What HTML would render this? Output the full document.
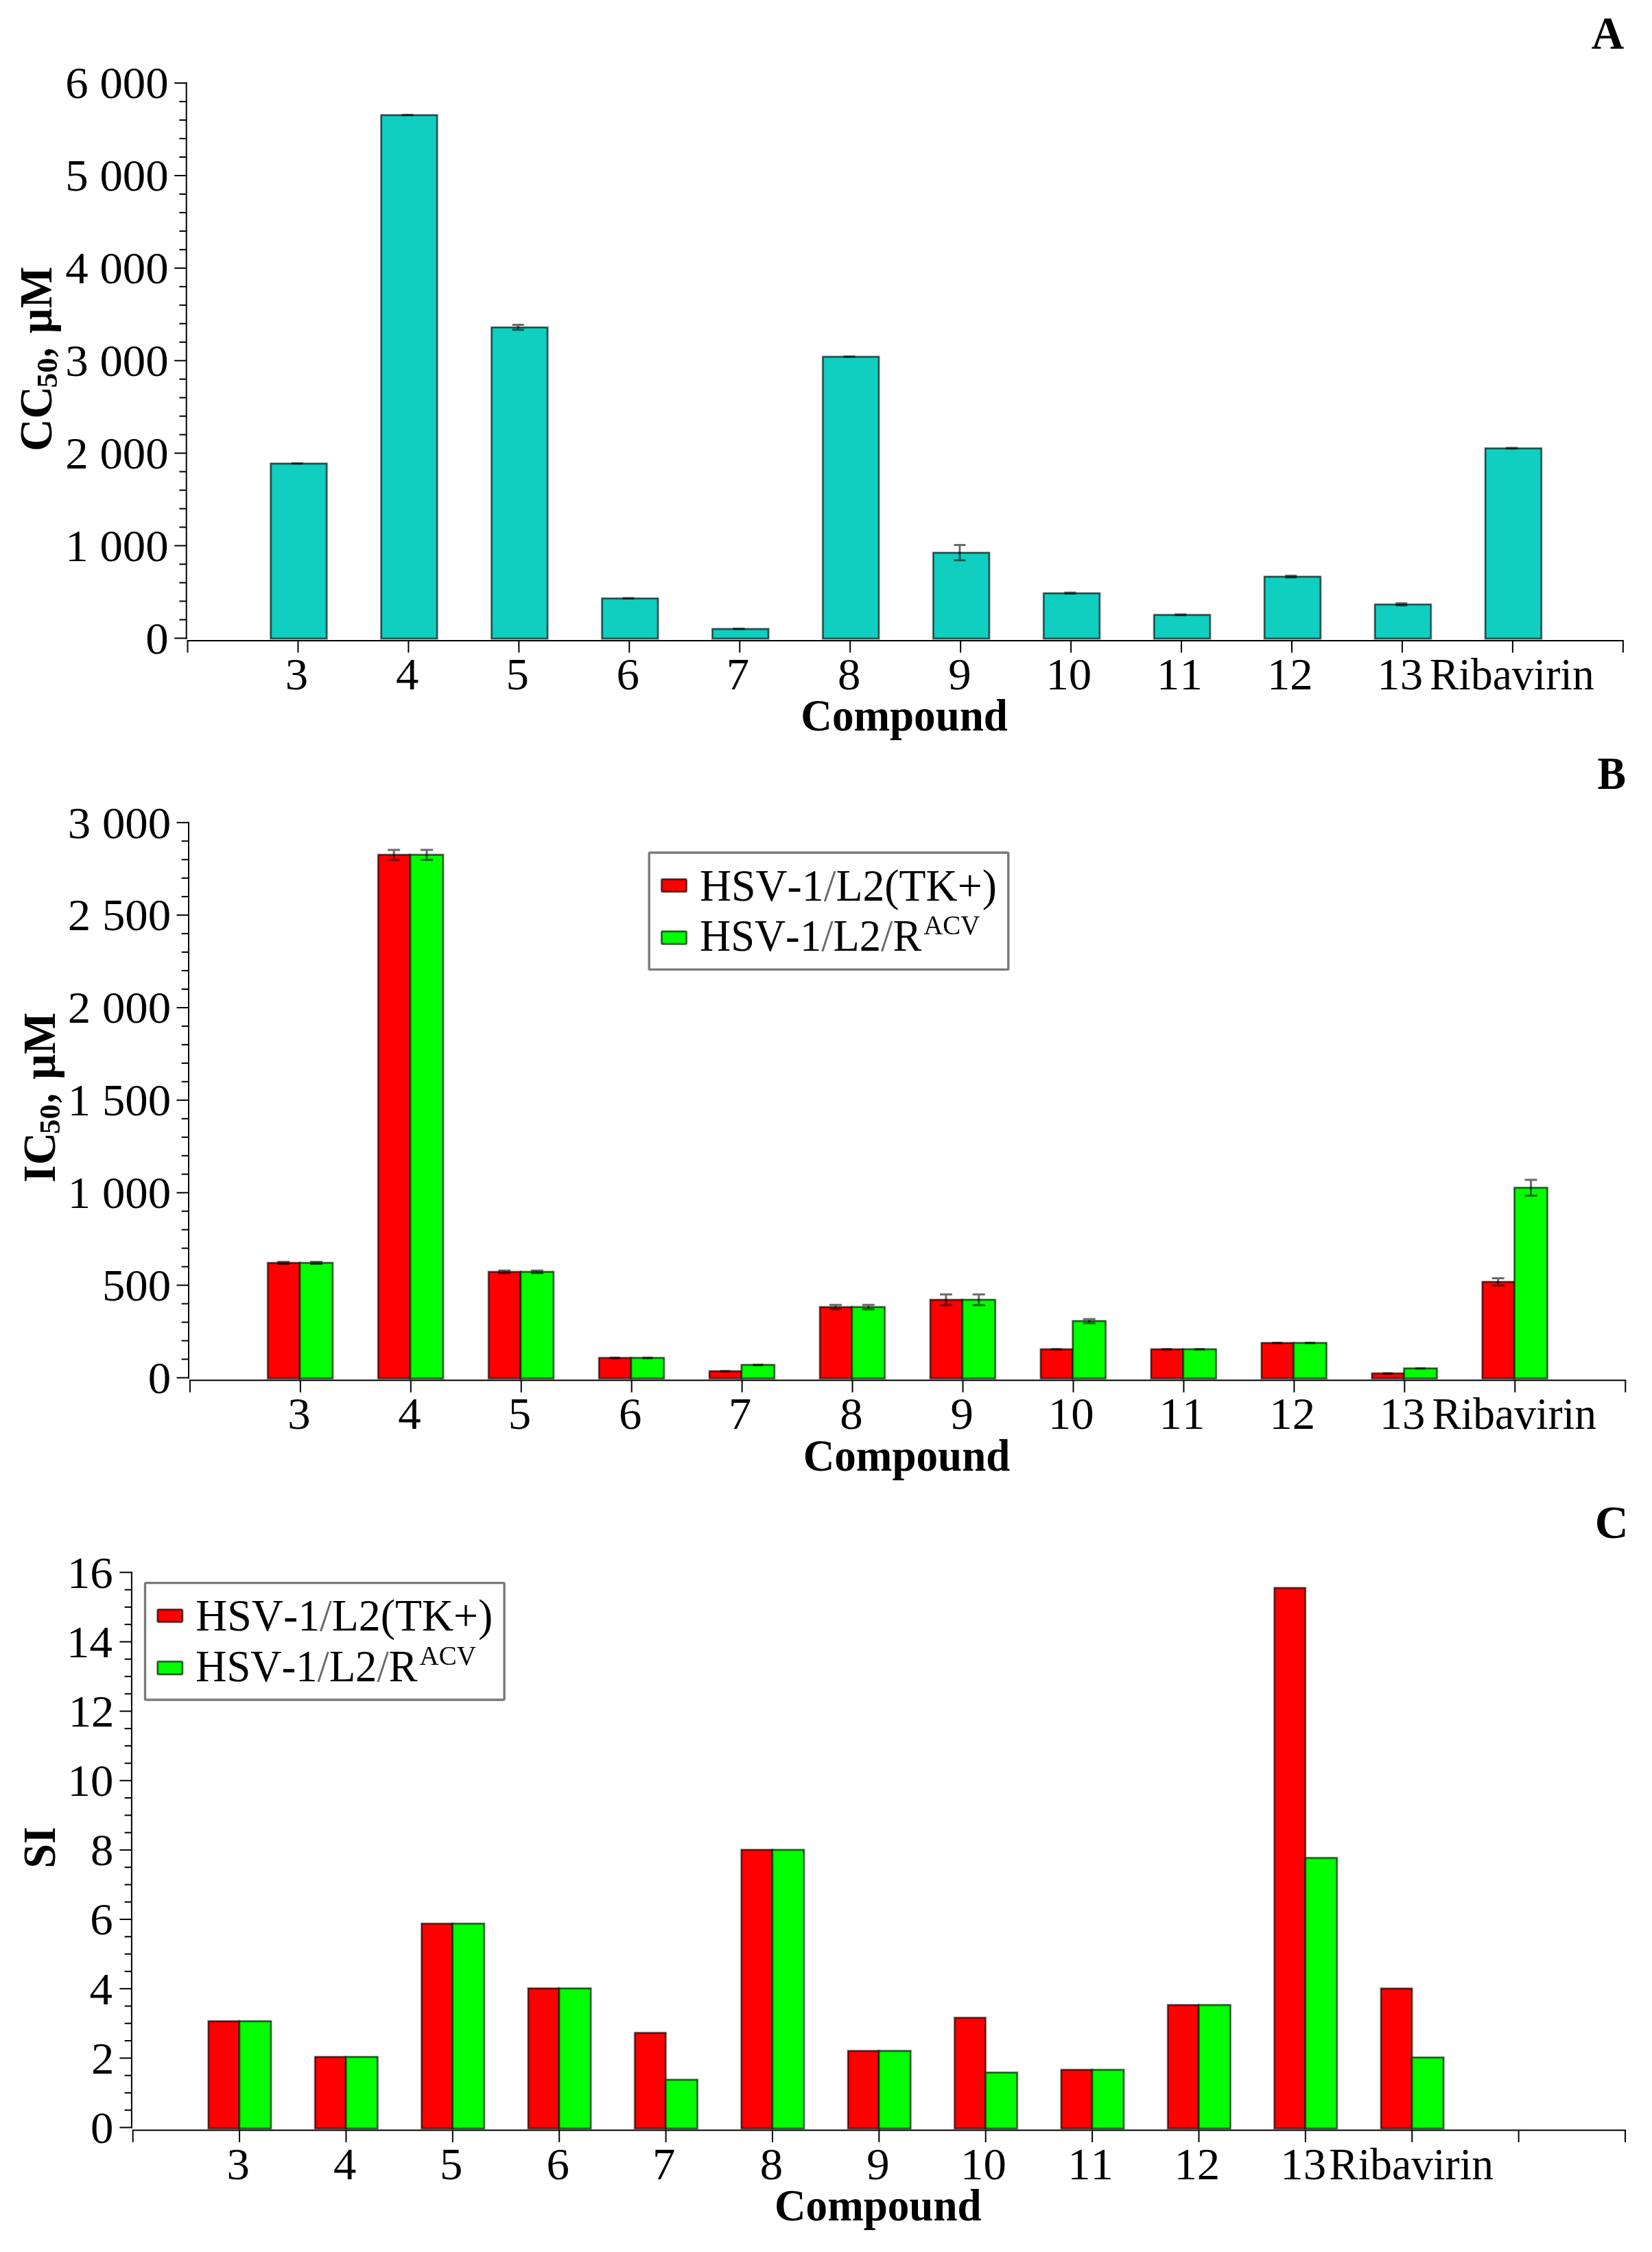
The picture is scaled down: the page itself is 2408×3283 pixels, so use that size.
<!DOCTYPE html>
<html lang="en">
<head>
<meta charset="utf-8">
<title>Cytotoxicity, antiviral activity and selectivity index of compounds</title>
<style>
html,body{margin:0;padding:0;background:#fff}
body{width:2408px;height:3283px;overflow:hidden}
svg{display:block;filter:blur(0.55px)}
text{font-family:"Liberation Serif",serif;fill:#000;font-kerning:none;white-space:pre}
.r{font-weight:400}.b{font-weight:700}.sl{fill-opacity:.6}
.ax{stroke:#000;stroke-width:2;stroke-linecap:butt}
.bd{fill:none;stroke:#000;stroke-opacity:.35;stroke-width:3.4}
.bd2{fill:none;stroke:#000;stroke-opacity:.52;stroke-width:1.6}
.er{fill:none;stroke:#000;stroke-opacity:.58;stroke-width:3}
.lg{fill:#fff;stroke:#7a7a7a;stroke-width:3.4}
</style>
</head>
<body>
<svg width="2408" height="3283" viewBox="0 0 2408 3283" role="img" aria-label="Bar charts A, B and C: CC50, IC50 and SI by compound">
<rect width="2408" height="3283" fill="#fff"/>
<g id="chartA">
<rect x="394.35" y="675.50" width="82.20" height="255.50" fill="#10cfc0"/>
<rect x="394.65" y="675.80" width="81.60" height="255.20" class="bd"/>
<rect x="394.65" y="675.80" width="81.60" height="255.20" class="bd2"/>
<rect x="555.30" y="167.50" width="82.20" height="763.50" fill="#10cfc0"/>
<rect x="555.60" y="167.80" width="81.60" height="763.20" class="bd"/>
<rect x="555.60" y="167.80" width="81.60" height="763.20" class="bd2"/>
<rect x="716.25" y="477.00" width="82.20" height="454.00" fill="#10cfc0"/>
<rect x="716.55" y="477.30" width="81.60" height="453.70" class="bd"/>
<rect x="716.55" y="477.30" width="81.60" height="453.70" class="bd2"/>
<rect x="877.20" y="872.10" width="82.20" height="58.90" fill="#10cfc0"/>
<rect x="877.50" y="872.40" width="81.60" height="58.60" class="bd"/>
<rect x="877.50" y="872.40" width="81.60" height="58.60" class="bd2"/>
<rect x="1038.15" y="916.60" width="82.20" height="14.40" fill="#10cfc0"/>
<rect x="1038.45" y="916.90" width="81.60" height="14.10" class="bd"/>
<rect x="1038.45" y="916.90" width="81.60" height="14.10" class="bd2"/>
<rect x="1199.10" y="519.80" width="82.20" height="411.20" fill="#10cfc0"/>
<rect x="1199.40" y="520.10" width="81.60" height="410.90" class="bd"/>
<rect x="1199.40" y="520.10" width="81.60" height="410.90" class="bd2"/>
<rect x="1360.05" y="805.50" width="82.20" height="125.50" fill="#10cfc0"/>
<rect x="1360.35" y="805.80" width="81.60" height="125.20" class="bd"/>
<rect x="1360.35" y="805.80" width="81.60" height="125.20" class="bd2"/>
<rect x="1521.00" y="864.60" width="82.20" height="66.40" fill="#10cfc0"/>
<rect x="1521.30" y="864.90" width="81.60" height="66.10" class="bd"/>
<rect x="1521.30" y="864.90" width="81.60" height="66.10" class="bd2"/>
<rect x="1681.95" y="896.10" width="82.20" height="34.90" fill="#10cfc0"/>
<rect x="1682.25" y="896.40" width="81.60" height="34.60" class="bd"/>
<rect x="1682.25" y="896.40" width="81.60" height="34.60" class="bd2"/>
<rect x="1842.90" y="840.40" width="82.20" height="90.60" fill="#10cfc0"/>
<rect x="1843.20" y="840.70" width="81.60" height="90.30" class="bd"/>
<rect x="1843.20" y="840.70" width="81.60" height="90.30" class="bd2"/>
<rect x="2003.85" y="880.90" width="82.20" height="50.10" fill="#10cfc0"/>
<rect x="2004.15" y="881.20" width="81.60" height="49.80" class="bd"/>
<rect x="2004.15" y="881.20" width="81.60" height="49.80" class="bd2"/>
<rect x="2164.80" y="653.30" width="82.20" height="277.70" fill="#10cfc0"/>
<rect x="2165.10" y="653.60" width="81.60" height="277.40" class="bd"/>
<rect x="2165.10" y="653.60" width="81.60" height="277.40" class="bd2"/>
<path d="M424.75 675.40H441.75M424.75 675.80H441.75M433.25 675.40V675.80" class="er"/>
<path d="M585.70 167.40H602.70M585.70 167.80H602.70M594.20 167.40V167.80" class="er"/>
<path d="M746.65 473.40H763.65M746.65 480.80H763.65M755.15 473.40V480.80" class="er"/>
<path d="M907.60 871.90H924.60M907.60 872.50H924.60M916.10 871.90V872.50" class="er"/>
<path d="M1068.55 916.40H1085.55M1068.55 917.00H1085.55M1077.05 916.40V917.00" class="er"/>
<path d="M1229.50 519.70H1246.50M1229.50 520.10H1246.50M1238.00 519.70V520.10" class="er"/>
<path d="M1390.45 794.40H1407.45M1390.45 816.80H1407.45M1398.95 794.40V816.80" class="er"/>
<path d="M1551.40 864.10H1568.40M1551.40 865.30H1568.40M1559.90 864.10V865.30" class="er"/>
<path d="M1712.35 895.70H1729.35M1712.35 896.70H1729.35M1720.85 895.70V896.70" class="er"/>
<path d="M1873.30 839.20H1890.30M1873.30 841.80H1890.30M1881.80 839.20V841.80" class="er"/>
<path d="M2034.25 879.40H2051.25M2034.25 882.60H2051.25M2042.75 879.40V882.60" class="er"/>
<path d="M2195.20 653.10H2212.20M2195.20 653.70H2212.20M2203.70 653.10V653.70" class="er"/>
<line x1="271.70" y1="120.10" x2="271.70" y2="931.40" class="ax"/>
<line x1="254.20" y1="930.40" x2="272.70" y2="930.40" class="ax"/>
<text transform="translate(212.23 952.70) scale(1.0050 1)" font-size="66.5" class="r">0</text>
<line x1="261.40" y1="903.42" x2="271.70" y2="903.42" class="ax"/>
<line x1="261.40" y1="876.45" x2="271.70" y2="876.45" class="ax"/>
<line x1="261.40" y1="849.47" x2="271.70" y2="849.47" class="ax"/>
<line x1="261.40" y1="822.49" x2="271.70" y2="822.49" class="ax"/>
<line x1="254.20" y1="795.52" x2="272.70" y2="795.52" class="ax"/>
<text transform="translate(95.27 817.82) scale(1.0050 1)" font-size="66.5" class="r">1 000</text>
<line x1="261.40" y1="768.54" x2="271.70" y2="768.54" class="ax"/>
<line x1="261.40" y1="741.56" x2="271.70" y2="741.56" class="ax"/>
<line x1="261.40" y1="714.59" x2="271.70" y2="714.59" class="ax"/>
<line x1="261.40" y1="687.61" x2="271.70" y2="687.61" class="ax"/>
<line x1="254.20" y1="660.63" x2="272.70" y2="660.63" class="ax"/>
<text transform="translate(95.27 682.93) scale(1.0050 1)" font-size="66.5" class="r">2 000</text>
<line x1="261.40" y1="633.66" x2="271.70" y2="633.66" class="ax"/>
<line x1="261.40" y1="606.68" x2="271.70" y2="606.68" class="ax"/>
<line x1="261.40" y1="579.70" x2="271.70" y2="579.70" class="ax"/>
<line x1="261.40" y1="552.73" x2="271.70" y2="552.73" class="ax"/>
<line x1="254.20" y1="525.75" x2="272.70" y2="525.75" class="ax"/>
<text transform="translate(95.27 548.05) scale(1.0050 1)" font-size="66.5" class="r">3 000</text>
<line x1="261.40" y1="498.77" x2="271.70" y2="498.77" class="ax"/>
<line x1="261.40" y1="471.80" x2="271.70" y2="471.80" class="ax"/>
<line x1="261.40" y1="444.82" x2="271.70" y2="444.82" class="ax"/>
<line x1="261.40" y1="417.84" x2="271.70" y2="417.84" class="ax"/>
<line x1="254.20" y1="390.87" x2="272.70" y2="390.87" class="ax"/>
<text transform="translate(95.27 413.17) scale(1.0050 1)" font-size="66.5" class="r">4 000</text>
<line x1="261.40" y1="363.89" x2="271.70" y2="363.89" class="ax"/>
<line x1="261.40" y1="336.91" x2="271.70" y2="336.91" class="ax"/>
<line x1="261.40" y1="309.94" x2="271.70" y2="309.94" class="ax"/>
<line x1="261.40" y1="282.96" x2="271.70" y2="282.96" class="ax"/>
<line x1="254.20" y1="255.98" x2="272.70" y2="255.98" class="ax"/>
<text transform="translate(95.27 278.28) scale(1.0050 1)" font-size="66.5" class="r">5 000</text>
<line x1="261.40" y1="229.01" x2="271.70" y2="229.01" class="ax"/>
<line x1="261.40" y1="202.03" x2="271.70" y2="202.03" class="ax"/>
<line x1="261.40" y1="175.05" x2="271.70" y2="175.05" class="ax"/>
<line x1="261.40" y1="148.08" x2="271.70" y2="148.08" class="ax"/>
<line x1="254.20" y1="121.10" x2="272.70" y2="121.10" class="ax"/>
<text transform="translate(95.27 143.40) scale(1.0050 1)" font-size="66.5" class="r">6 000</text>
<line x1="272.50" y1="933.90" x2="2366.85" y2="933.90" class="ax"/>
<line x1="273.50" y1="933.90" x2="273.50" y2="951.40" class="ax"/>
<line x1="434.45" y1="933.90" x2="434.45" y2="951.40" class="ax"/>
<text transform="translate(415.85 1005.00) scale(1.0050 1)" font-size="66.5" class="r">3</text>
<line x1="595.40" y1="933.90" x2="595.40" y2="951.40" class="ax"/>
<text transform="translate(576.96 1005.00) scale(1.0050 1)" font-size="66.5" class="r">4</text>
<line x1="756.35" y1="933.90" x2="756.35" y2="951.40" class="ax"/>
<text transform="translate(737.41 1005.00) scale(1.0050 1)" font-size="66.5" class="r">5</text>
<line x1="917.30" y1="933.90" x2="917.30" y2="951.40" class="ax"/>
<text transform="translate(898.55 1005.00) scale(1.0050 1)" font-size="66.5" class="r">6</text>
<line x1="1078.25" y1="933.90" x2="1078.25" y2="951.40" class="ax"/>
<text transform="translate(1058.70 1005.00) scale(1.0050 1)" font-size="66.5" class="r">7</text>
<line x1="1239.20" y1="933.90" x2="1239.20" y2="951.40" class="ax"/>
<text transform="translate(1220.89 1005.00) scale(1.0050 1)" font-size="66.5" class="r">8</text>
<line x1="1400.15" y1="933.90" x2="1400.15" y2="951.40" class="ax"/>
<text transform="translate(1382.14 1005.00) scale(1.0050 1)" font-size="66.5" class="r">9</text>
<line x1="1561.10" y1="933.90" x2="1561.10" y2="951.40" class="ax"/>
<text transform="translate(1524.42 1005.00) scale(1.0050 1)" font-size="66.5" class="r">10</text>
<line x1="1722.05" y1="933.90" x2="1722.05" y2="951.40" class="ax"/>
<text transform="translate(1686.10 1005.00) scale(1.0050 1)" font-size="66.5" class="r">11</text>
<line x1="1883.00" y1="933.90" x2="1883.00" y2="951.40" class="ax"/>
<text transform="translate(1846.89 1005.00) scale(1.0050 1)" font-size="66.5" class="r">12</text>
<line x1="2043.95" y1="933.90" x2="2043.95" y2="951.40" class="ax"/>
<text transform="translate(2007.30 1005.00) scale(1.0050 1)" font-size="66.5" class="r">13</text>
<line x1="2204.90" y1="933.90" x2="2204.90" y2="951.40" class="ax"/>
<text transform="translate(2084.00 1005.00) scale(0.9840 1)" font-size="64.5" class="r">Ribavirin</text>
<line x1="2365.85" y1="933.90" x2="2365.85" y2="951.40" class="ax"/>
<text transform="translate(1167.35 1065.20) scale(0.9710 1)" font-size="65" class="b">Compound</text>
<text transform="translate(2319.66 71.20) scale(0.9657 1)" font-size="68" class="b">A</text>
<g transform="translate(75.40,655.10) rotate(-90)">
<text transform="translate(-2.91 0.00) scale(0.9653 1)" font-size="68" class="b">CC</text>
<text transform="translate(89.65 7.70) scale(1.0166 1)" font-size="43" class="b">50</text>
<text transform="translate(134.58 0.00) scale(0.8066 1)" font-size="68" class="b">,</text>
<text transform="translate(168.90 0.00) scale(0.9427 1)" font-size="68" class="b">µM</text>
</g>
</g>
<g id="chartB">
<rect x="390.05" y="1840.70" width="47.30" height="168.80" fill="#ff0000"/>
<rect x="390.35" y="1841.00" width="46.70" height="168.50" class="bd"/>
<rect x="390.35" y="1841.00" width="46.70" height="168.50" class="bd2"/>
<rect x="436.75" y="1840.70" width="48.50" height="168.80" fill="#00ff00"/>
<rect x="437.05" y="1841.00" width="47.90" height="168.50" class="bd"/>
<rect x="437.05" y="1841.00" width="47.90" height="168.50" class="bd2"/>
<rect x="551.00" y="1245.80" width="47.30" height="763.70" fill="#ff0000"/>
<rect x="551.30" y="1246.10" width="46.70" height="763.40" class="bd"/>
<rect x="551.30" y="1246.10" width="46.70" height="763.40" class="bd2"/>
<rect x="597.70" y="1245.80" width="48.50" height="763.70" fill="#00ff00"/>
<rect x="598.00" y="1246.10" width="47.90" height="763.40" class="bd"/>
<rect x="598.00" y="1246.10" width="47.90" height="763.40" class="bd2"/>
<rect x="711.95" y="1853.80" width="47.30" height="155.70" fill="#ff0000"/>
<rect x="712.25" y="1854.10" width="46.70" height="155.40" class="bd"/>
<rect x="712.25" y="1854.10" width="46.70" height="155.40" class="bd2"/>
<rect x="758.65" y="1853.80" width="48.50" height="155.70" fill="#00ff00"/>
<rect x="758.95" y="1854.10" width="47.90" height="155.40" class="bd"/>
<rect x="758.95" y="1854.10" width="47.90" height="155.40" class="bd2"/>
<rect x="872.90" y="1979.20" width="47.30" height="30.30" fill="#ff0000"/>
<rect x="873.20" y="1979.50" width="46.70" height="30.00" class="bd"/>
<rect x="873.20" y="1979.50" width="46.70" height="30.00" class="bd2"/>
<rect x="919.60" y="1979.20" width="48.50" height="30.30" fill="#00ff00"/>
<rect x="919.90" y="1979.50" width="47.90" height="30.00" class="bd"/>
<rect x="919.90" y="1979.50" width="47.90" height="30.00" class="bd2"/>
<rect x="1033.85" y="1998.60" width="47.30" height="10.90" fill="#ff0000"/>
<rect x="1034.15" y="1998.90" width="46.70" height="10.60" class="bd"/>
<rect x="1034.15" y="1998.90" width="46.70" height="10.60" class="bd2"/>
<rect x="1080.55" y="1989.40" width="48.50" height="20.10" fill="#00ff00"/>
<rect x="1080.85" y="1989.70" width="47.90" height="19.80" class="bd"/>
<rect x="1080.85" y="1989.70" width="47.90" height="19.80" class="bd2"/>
<rect x="1194.80" y="1905.10" width="47.30" height="104.40" fill="#ff0000"/>
<rect x="1195.10" y="1905.40" width="46.70" height="104.10" class="bd"/>
<rect x="1195.10" y="1905.40" width="46.70" height="104.10" class="bd2"/>
<rect x="1241.50" y="1905.10" width="48.50" height="104.40" fill="#00ff00"/>
<rect x="1241.80" y="1905.40" width="47.90" height="104.10" class="bd"/>
<rect x="1241.80" y="1905.40" width="47.90" height="104.10" class="bd2"/>
<rect x="1355.75" y="1894.50" width="47.30" height="115.00" fill="#ff0000"/>
<rect x="1356.05" y="1894.80" width="46.70" height="114.70" class="bd"/>
<rect x="1356.05" y="1894.80" width="46.70" height="114.70" class="bd2"/>
<rect x="1402.45" y="1894.50" width="48.50" height="115.00" fill="#00ff00"/>
<rect x="1402.75" y="1894.80" width="47.90" height="114.70" class="bd"/>
<rect x="1402.75" y="1894.80" width="47.90" height="114.70" class="bd2"/>
<rect x="1516.70" y="1966.60" width="47.30" height="42.90" fill="#ff0000"/>
<rect x="1517.00" y="1966.90" width="46.70" height="42.60" class="bd"/>
<rect x="1517.00" y="1966.90" width="46.70" height="42.60" class="bd2"/>
<rect x="1563.40" y="1925.50" width="48.50" height="84.00" fill="#00ff00"/>
<rect x="1563.70" y="1925.80" width="47.90" height="83.70" class="bd"/>
<rect x="1563.70" y="1925.80" width="47.90" height="83.70" class="bd2"/>
<rect x="1677.65" y="1966.60" width="47.30" height="42.90" fill="#ff0000"/>
<rect x="1677.95" y="1966.90" width="46.70" height="42.60" class="bd"/>
<rect x="1677.95" y="1966.90" width="46.70" height="42.60" class="bd2"/>
<rect x="1724.35" y="1966.60" width="48.50" height="42.90" fill="#00ff00"/>
<rect x="1724.65" y="1966.90" width="47.90" height="42.60" class="bd"/>
<rect x="1724.65" y="1966.90" width="47.90" height="42.60" class="bd2"/>
<rect x="1838.60" y="1957.40" width="47.30" height="52.10" fill="#ff0000"/>
<rect x="1838.90" y="1957.70" width="46.70" height="51.80" class="bd"/>
<rect x="1838.90" y="1957.70" width="46.70" height="51.80" class="bd2"/>
<rect x="1885.30" y="1957.40" width="48.50" height="52.10" fill="#00ff00"/>
<rect x="1885.60" y="1957.70" width="47.90" height="51.80" class="bd"/>
<rect x="1885.60" y="1957.70" width="47.90" height="51.80" class="bd2"/>
<rect x="1999.55" y="2001.80" width="47.30" height="7.70" fill="#ff0000"/>
<rect x="1999.85" y="2002.10" width="46.70" height="7.40" class="bd"/>
<rect x="1999.85" y="2002.10" width="46.70" height="7.40" class="bd2"/>
<rect x="2046.25" y="1994.50" width="48.50" height="15.00" fill="#00ff00"/>
<rect x="2046.55" y="1994.80" width="47.90" height="14.70" class="bd"/>
<rect x="2046.55" y="1994.80" width="47.90" height="14.70" class="bd2"/>
<rect x="2160.50" y="1868.40" width="47.30" height="141.10" fill="#ff0000"/>
<rect x="2160.80" y="1868.70" width="46.70" height="140.80" class="bd"/>
<rect x="2160.80" y="1868.70" width="46.70" height="140.80" class="bd2"/>
<rect x="2207.20" y="1731.20" width="48.50" height="278.30" fill="#00ff00"/>
<rect x="2207.50" y="1731.50" width="47.90" height="278.00" class="bd"/>
<rect x="2207.50" y="1731.50" width="47.90" height="278.00" class="bd2"/>
<path d="M404.25 1839.60H422.25M404.25 1842.60H422.25M413.25 1839.60V1842.60" class="er"/>
<path d="M452.05 1839.60H470.05M452.05 1842.60H470.05M461.05 1839.60V1842.60" class="er"/>
<path d="M565.20 1238.90H583.20M565.20 1253.50H583.20M574.20 1238.90V1253.50" class="er"/>
<path d="M613.00 1238.90H631.00M613.00 1253.50H631.00M622.00 1238.90V1253.50" class="er"/>
<path d="M726.15 1852.30H744.15M726.15 1856.10H744.15M735.15 1852.30V1856.10" class="er"/>
<path d="M773.95 1852.30H791.95M773.95 1856.10H791.95M782.95 1852.30V1856.10" class="er"/>
<path d="M888.60 1979.30H903.60M888.60 1979.90H903.60M896.10 1979.30V1979.90" class="er"/>
<path d="M936.40 1979.30H951.40M936.40 1979.90H951.40M943.90 1979.30V1979.90" class="er"/>
<path d="M1049.55 1998.80H1064.55M1049.55 1999.20H1064.55M1057.05 1998.80V1999.20" class="er"/>
<path d="M1097.35 1989.60H1112.35M1097.35 1990.00H1112.35M1104.85 1989.60V1990.00" class="er"/>
<path d="M1209.00 1902.30H1227.00M1209.00 1908.70H1227.00M1218.00 1902.30V1908.70" class="er"/>
<path d="M1256.80 1902.30H1274.80M1256.80 1908.70H1274.80M1265.80 1902.30V1908.70" class="er"/>
<path d="M1369.95 1887.10H1387.95M1369.95 1902.70H1387.95M1378.95 1887.10V1902.70" class="er"/>
<path d="M1417.75 1887.10H1435.75M1417.75 1902.70H1435.75M1426.75 1887.10V1902.70" class="er"/>
<path d="M1532.40 1966.70H1547.40M1532.40 1967.30H1547.40M1539.90 1966.70V1967.30" class="er"/>
<path d="M1578.70 1922.90H1596.70M1578.70 1928.90H1596.70M1587.70 1922.90V1928.90" class="er"/>
<path d="M1693.35 1966.80H1708.35M1693.35 1967.20H1708.35M1700.85 1966.80V1967.20" class="er"/>
<path d="M1741.15 1966.80H1756.15M1741.15 1967.20H1756.15M1748.65 1966.80V1967.20" class="er"/>
<path d="M1854.30 1957.50H1869.30M1854.30 1958.10H1869.30M1861.80 1957.50V1958.10" class="er"/>
<path d="M1902.10 1957.50H1917.10M1902.10 1958.10H1917.10M1909.60 1957.50V1958.10" class="er"/>
<path d="M2015.25 2002.00H2030.25M2015.25 2002.40H2030.25M2022.75 2002.00V2002.40" class="er"/>
<path d="M2063.05 1994.70H2078.05M2063.05 1995.10H2078.05M2070.55 1994.70V1995.10" class="er"/>
<path d="M2174.70 1863.60H2192.70M2174.70 1874.00H2192.70M2183.70 1863.60V1874.00" class="er"/>
<path d="M2222.50 1720.10H2240.50M2222.50 1743.10H2240.50M2231.50 1720.10V1743.10" class="er"/>
<line x1="275.00" y1="1198.20" x2="275.00" y2="2009.50" class="ax"/>
<line x1="257.50" y1="2008.50" x2="276.00" y2="2008.50" class="ax"/>
<text transform="translate(215.73 2030.80) scale(1.0050 1)" font-size="66.5" class="r">0</text>
<line x1="264.70" y1="1981.52" x2="275.00" y2="1981.52" class="ax"/>
<line x1="264.70" y1="1954.55" x2="275.00" y2="1954.55" class="ax"/>
<line x1="264.70" y1="1927.57" x2="275.00" y2="1927.57" class="ax"/>
<line x1="264.70" y1="1900.59" x2="275.00" y2="1900.59" class="ax"/>
<line x1="257.50" y1="1873.62" x2="276.00" y2="1873.62" class="ax"/>
<text transform="translate(148.90 1895.92) scale(1.0050 1)" font-size="66.5" class="r">500</text>
<line x1="264.70" y1="1846.64" x2="275.00" y2="1846.64" class="ax"/>
<line x1="264.70" y1="1819.66" x2="275.00" y2="1819.66" class="ax"/>
<line x1="264.70" y1="1792.69" x2="275.00" y2="1792.69" class="ax"/>
<line x1="264.70" y1="1765.71" x2="275.00" y2="1765.71" class="ax"/>
<line x1="257.50" y1="1738.73" x2="276.00" y2="1738.73" class="ax"/>
<text transform="translate(98.77 1761.03) scale(1.0050 1)" font-size="66.5" class="r">1 000</text>
<line x1="264.70" y1="1711.76" x2="275.00" y2="1711.76" class="ax"/>
<line x1="264.70" y1="1684.78" x2="275.00" y2="1684.78" class="ax"/>
<line x1="264.70" y1="1657.80" x2="275.00" y2="1657.80" class="ax"/>
<line x1="264.70" y1="1630.83" x2="275.00" y2="1630.83" class="ax"/>
<line x1="257.50" y1="1603.85" x2="276.00" y2="1603.85" class="ax"/>
<text transform="translate(98.77 1626.15) scale(1.0050 1)" font-size="66.5" class="r">1 500</text>
<line x1="264.70" y1="1576.87" x2="275.00" y2="1576.87" class="ax"/>
<line x1="264.70" y1="1549.90" x2="275.00" y2="1549.90" class="ax"/>
<line x1="264.70" y1="1522.92" x2="275.00" y2="1522.92" class="ax"/>
<line x1="264.70" y1="1495.94" x2="275.00" y2="1495.94" class="ax"/>
<line x1="257.50" y1="1468.97" x2="276.00" y2="1468.97" class="ax"/>
<text transform="translate(98.77 1491.27) scale(1.0050 1)" font-size="66.5" class="r">2 000</text>
<line x1="264.70" y1="1441.99" x2="275.00" y2="1441.99" class="ax"/>
<line x1="264.70" y1="1415.01" x2="275.00" y2="1415.01" class="ax"/>
<line x1="264.70" y1="1388.04" x2="275.00" y2="1388.04" class="ax"/>
<line x1="264.70" y1="1361.06" x2="275.00" y2="1361.06" class="ax"/>
<line x1="257.50" y1="1334.08" x2="276.00" y2="1334.08" class="ax"/>
<text transform="translate(98.77 1356.38) scale(1.0050 1)" font-size="66.5" class="r">2 500</text>
<line x1="264.70" y1="1307.11" x2="275.00" y2="1307.11" class="ax"/>
<line x1="264.70" y1="1280.13" x2="275.00" y2="1280.13" class="ax"/>
<line x1="264.70" y1="1253.15" x2="275.00" y2="1253.15" class="ax"/>
<line x1="264.70" y1="1226.18" x2="275.00" y2="1226.18" class="ax"/>
<line x1="257.50" y1="1199.20" x2="276.00" y2="1199.20" class="ax"/>
<text transform="translate(98.77 1221.50) scale(1.0050 1)" font-size="66.5" class="r">3 000</text>
<line x1="275.90" y1="2012.30" x2="2370.25" y2="2012.30" class="ax"/>
<line x1="276.90" y1="2012.30" x2="276.90" y2="2029.80" class="ax"/>
<line x1="437.85" y1="2012.30" x2="437.85" y2="2029.80" class="ax"/>
<text transform="translate(419.25 2083.40) scale(1.0050 1)" font-size="66.5" class="r">3</text>
<line x1="598.80" y1="2012.30" x2="598.80" y2="2029.80" class="ax"/>
<text transform="translate(580.36 2083.40) scale(1.0050 1)" font-size="66.5" class="r">4</text>
<line x1="759.75" y1="2012.30" x2="759.75" y2="2029.80" class="ax"/>
<text transform="translate(740.81 2083.40) scale(1.0050 1)" font-size="66.5" class="r">5</text>
<line x1="920.70" y1="2012.30" x2="920.70" y2="2029.80" class="ax"/>
<text transform="translate(901.95 2083.40) scale(1.0050 1)" font-size="66.5" class="r">6</text>
<line x1="1081.65" y1="2012.30" x2="1081.65" y2="2029.80" class="ax"/>
<text transform="translate(1062.10 2083.40) scale(1.0050 1)" font-size="66.5" class="r">7</text>
<line x1="1242.60" y1="2012.30" x2="1242.60" y2="2029.80" class="ax"/>
<text transform="translate(1224.29 2083.40) scale(1.0050 1)" font-size="66.5" class="r">8</text>
<line x1="1403.55" y1="2012.30" x2="1403.55" y2="2029.80" class="ax"/>
<text transform="translate(1385.54 2083.40) scale(1.0050 1)" font-size="66.5" class="r">9</text>
<line x1="1564.50" y1="2012.30" x2="1564.50" y2="2029.80" class="ax"/>
<text transform="translate(1527.82 2083.40) scale(1.0050 1)" font-size="66.5" class="r">10</text>
<line x1="1725.45" y1="2012.30" x2="1725.45" y2="2029.80" class="ax"/>
<text transform="translate(1689.50 2083.40) scale(1.0050 1)" font-size="66.5" class="r">11</text>
<line x1="1886.40" y1="2012.30" x2="1886.40" y2="2029.80" class="ax"/>
<text transform="translate(1850.29 2083.40) scale(1.0050 1)" font-size="66.5" class="r">12</text>
<line x1="2047.35" y1="2012.30" x2="2047.35" y2="2029.80" class="ax"/>
<text transform="translate(2010.70 2083.40) scale(1.0050 1)" font-size="66.5" class="r">13</text>
<line x1="2208.30" y1="2012.30" x2="2208.30" y2="2029.80" class="ax"/>
<text transform="translate(2087.40 2083.40) scale(0.9840 1)" font-size="64.5" class="r">Ribavirin</text>
<line x1="2369.25" y1="2012.30" x2="2369.25" y2="2029.80" class="ax"/>
<text transform="translate(1170.75 2143.60) scale(0.9710 1)" font-size="65" class="b">Compound</text>
<text transform="translate(2328.57 1149.80) scale(0.9142 1)" font-size="68" class="b">B</text>
<g transform="translate(79.50,1722.00) rotate(-90)">
<text transform="translate(-1.91 0.00) scale(0.9662 1)" font-size="68" class="b">IC</text>
<text transform="translate(68.76 7.70) scale(1.0091 1)" font-size="43" class="b">50</text>
<text transform="translate(114.19 0.00) scale(0.7918 1)" font-size="68" class="b">,</text>
<text transform="translate(148.20 0.00) scale(0.9487 1)" font-size="68" class="b">µM</text>
</g>
<rect x="946.20" y="1243.00" width="523.60" height="170.4" rx="1.5" class="lg"/>
<rect x="964.10" y="1281.50" width="36.8" height="18.8" rx="1.8" fill="#ff0000"/>
<rect x="964.40" y="1281.80" width="36.2" height="18.2" rx="1.5" class="bd"/>
<rect x="964.40" y="1281.80" width="36.2" height="18.2" rx="1.5" class="bd2"/>
<rect x="964.10" y="1357.40" width="36.8" height="19.200000000000003" rx="1.8" fill="#00ff00"/>
<rect x="964.40" y="1357.70" width="36.2" height="18.6" rx="1.5" class="bd"/>
<rect x="964.40" y="1357.70" width="36.2" height="18.6" rx="1.5" class="bd2"/>
<text transform="translate(1019.96 1312.50) scale(0.9597 1)" font-size="66.5" class="r">HSV-1<tspan class="sl">/</tspan>L2(TK+)</text>
<text transform="translate(1020.00 1386.30) scale(0.9406 1)" font-size="66.5" class="r">HSV-1<tspan class="sl">/</tspan>L2<tspan class="sl">/</tspan>R</text>
<text transform="translate(1346.22 1361.90) scale(0.9747 1)" font-size="40" class="r">ACV</text>
</g>
<g id="chartC">
<rect x="303.58" y="2946.20" width="45.60" height="156.80" fill="#ff0000"/>
<rect x="303.88" y="2946.50" width="45.00" height="156.50" class="bd"/>
<rect x="303.88" y="2946.50" width="45.00" height="156.50" class="bd2"/>
<rect x="348.58" y="2946.20" width="46.70" height="156.80" fill="#00ff00"/>
<rect x="348.88" y="2946.50" width="46.10" height="156.50" class="bd"/>
<rect x="348.88" y="2946.50" width="46.10" height="156.50" class="bd2"/>
<rect x="458.96" y="2998.30" width="45.60" height="104.70" fill="#ff0000"/>
<rect x="459.26" y="2998.60" width="45.00" height="104.40" class="bd"/>
<rect x="459.26" y="2998.60" width="45.00" height="104.40" class="bd2"/>
<rect x="503.96" y="2998.30" width="46.70" height="104.70" fill="#00ff00"/>
<rect x="504.26" y="2998.60" width="46.10" height="104.40" class="bd"/>
<rect x="504.26" y="2998.60" width="46.10" height="104.40" class="bd2"/>
<rect x="614.34" y="2804.00" width="45.60" height="299.00" fill="#ff0000"/>
<rect x="614.64" y="2804.30" width="45.00" height="298.70" class="bd"/>
<rect x="614.64" y="2804.30" width="45.00" height="298.70" class="bd2"/>
<rect x="659.34" y="2804.00" width="46.70" height="299.00" fill="#00ff00"/>
<rect x="659.64" y="2804.30" width="46.10" height="298.70" class="bd"/>
<rect x="659.64" y="2804.30" width="46.10" height="298.70" class="bd2"/>
<rect x="769.72" y="2898.40" width="45.60" height="204.60" fill="#ff0000"/>
<rect x="770.02" y="2898.70" width="45.00" height="204.30" class="bd"/>
<rect x="770.02" y="2898.70" width="45.00" height="204.30" class="bd2"/>
<rect x="814.72" y="2898.40" width="46.70" height="204.60" fill="#00ff00"/>
<rect x="815.02" y="2898.70" width="46.10" height="204.30" class="bd"/>
<rect x="815.02" y="2898.70" width="46.10" height="204.30" class="bd2"/>
<rect x="925.10" y="2963.20" width="45.60" height="139.80" fill="#ff0000"/>
<rect x="925.40" y="2963.50" width="45.00" height="139.50" class="bd"/>
<rect x="925.40" y="2963.50" width="45.00" height="139.50" class="bd2"/>
<rect x="970.10" y="3031.60" width="46.70" height="71.40" fill="#00ff00"/>
<rect x="970.40" y="3031.90" width="46.10" height="71.10" class="bd"/>
<rect x="970.40" y="3031.90" width="46.10" height="71.10" class="bd2"/>
<rect x="1080.48" y="2696.40" width="45.60" height="406.60" fill="#ff0000"/>
<rect x="1080.78" y="2696.70" width="45.00" height="406.30" class="bd"/>
<rect x="1080.78" y="2696.70" width="45.00" height="406.30" class="bd2"/>
<rect x="1125.48" y="2696.40" width="46.70" height="406.60" fill="#00ff00"/>
<rect x="1125.78" y="2696.70" width="46.10" height="406.30" class="bd"/>
<rect x="1125.78" y="2696.70" width="46.10" height="406.30" class="bd2"/>
<rect x="1235.86" y="2989.50" width="45.60" height="113.50" fill="#ff0000"/>
<rect x="1236.16" y="2989.80" width="45.00" height="113.20" class="bd"/>
<rect x="1236.16" y="2989.80" width="45.00" height="113.20" class="bd2"/>
<rect x="1280.86" y="2989.50" width="46.70" height="113.50" fill="#00ff00"/>
<rect x="1281.16" y="2989.80" width="46.10" height="113.20" class="bd"/>
<rect x="1281.16" y="2989.80" width="46.10" height="113.20" class="bd2"/>
<rect x="1391.24" y="2941.20" width="45.60" height="161.80" fill="#ff0000"/>
<rect x="1391.54" y="2941.50" width="45.00" height="161.50" class="bd"/>
<rect x="1391.54" y="2941.50" width="45.00" height="161.50" class="bd2"/>
<rect x="1436.24" y="3021.10" width="46.70" height="81.90" fill="#00ff00"/>
<rect x="1436.54" y="3021.40" width="46.10" height="81.60" class="bd"/>
<rect x="1436.54" y="3021.40" width="46.10" height="81.60" class="bd2"/>
<rect x="1546.62" y="3017.10" width="45.60" height="85.90" fill="#ff0000"/>
<rect x="1546.92" y="3017.40" width="45.00" height="85.60" class="bd"/>
<rect x="1546.92" y="3017.40" width="45.00" height="85.60" class="bd2"/>
<rect x="1591.62" y="3017.10" width="46.70" height="85.90" fill="#00ff00"/>
<rect x="1591.92" y="3017.40" width="46.10" height="85.60" class="bd"/>
<rect x="1591.92" y="3017.40" width="46.10" height="85.60" class="bd2"/>
<rect x="1702.00" y="2922.60" width="45.60" height="180.40" fill="#ff0000"/>
<rect x="1702.30" y="2922.90" width="45.00" height="180.10" class="bd"/>
<rect x="1702.30" y="2922.90" width="45.00" height="180.10" class="bd2"/>
<rect x="1747.00" y="2922.60" width="46.70" height="180.40" fill="#00ff00"/>
<rect x="1747.30" y="2922.90" width="46.10" height="180.10" class="bd"/>
<rect x="1747.30" y="2922.90" width="46.10" height="180.10" class="bd2"/>
<rect x="1857.38" y="2314.60" width="45.60" height="788.40" fill="#ff0000"/>
<rect x="1857.68" y="2314.90" width="45.00" height="788.10" class="bd"/>
<rect x="1857.68" y="2314.90" width="45.00" height="788.10" class="bd2"/>
<rect x="1902.38" y="2708.20" width="46.70" height="394.80" fill="#00ff00"/>
<rect x="1902.68" y="2708.50" width="46.10" height="394.50" class="bd"/>
<rect x="1902.68" y="2708.50" width="46.10" height="394.50" class="bd2"/>
<rect x="2012.76" y="2898.60" width="45.60" height="204.40" fill="#ff0000"/>
<rect x="2013.06" y="2898.90" width="45.00" height="204.10" class="bd"/>
<rect x="2013.06" y="2898.90" width="45.00" height="204.10" class="bd2"/>
<rect x="2057.76" y="2999.10" width="46.70" height="103.90" fill="#00ff00"/>
<rect x="2058.06" y="2999.40" width="46.10" height="103.60" class="bd"/>
<rect x="2058.06" y="2999.40" width="46.10" height="103.60" class="bd2"/>
<line x1="191.90" y1="2291.30" x2="191.90" y2="3102.50" class="ax"/>
<line x1="174.40" y1="3101.50" x2="192.90" y2="3101.50" class="ax"/>
<text transform="translate(131.93 3123.80) scale(1.0050 1)" font-size="66.5" class="r">0</text>
<line x1="181.60" y1="3076.21" x2="191.90" y2="3076.21" class="ax"/>
<line x1="181.60" y1="3050.93" x2="191.90" y2="3050.93" class="ax"/>
<line x1="181.60" y1="3025.64" x2="191.90" y2="3025.64" class="ax"/>
<line x1="174.40" y1="3000.35" x2="192.90" y2="3000.35" class="ax"/>
<text transform="translate(133.07 3022.65) scale(1.0050 1)" font-size="66.5" class="r">2</text>
<line x1="181.60" y1="2975.06" x2="191.90" y2="2975.06" class="ax"/>
<line x1="181.60" y1="2949.78" x2="191.90" y2="2949.78" class="ax"/>
<line x1="181.60" y1="2924.49" x2="191.90" y2="2924.49" class="ax"/>
<line x1="174.40" y1="2899.20" x2="192.90" y2="2899.20" class="ax"/>
<text transform="translate(130.43 2921.50) scale(1.0050 1)" font-size="66.5" class="r">4</text>
<line x1="181.60" y1="2873.91" x2="191.90" y2="2873.91" class="ax"/>
<line x1="181.60" y1="2848.62" x2="191.90" y2="2848.62" class="ax"/>
<line x1="181.60" y1="2823.34" x2="191.90" y2="2823.34" class="ax"/>
<line x1="174.40" y1="2798.05" x2="192.90" y2="2798.05" class="ax"/>
<text transform="translate(131.37 2820.35) scale(1.0050 1)" font-size="66.5" class="r">6</text>
<line x1="181.60" y1="2772.76" x2="191.90" y2="2772.76" class="ax"/>
<line x1="181.60" y1="2747.48" x2="191.90" y2="2747.48" class="ax"/>
<line x1="181.60" y1="2722.19" x2="191.90" y2="2722.19" class="ax"/>
<line x1="174.40" y1="2696.90" x2="192.90" y2="2696.90" class="ax"/>
<text transform="translate(131.93 2719.20) scale(1.0050 1)" font-size="66.5" class="r">8</text>
<line x1="181.60" y1="2671.61" x2="191.90" y2="2671.61" class="ax"/>
<line x1="181.60" y1="2646.33" x2="191.90" y2="2646.33" class="ax"/>
<line x1="181.60" y1="2621.04" x2="191.90" y2="2621.04" class="ax"/>
<line x1="174.40" y1="2595.75" x2="192.90" y2="2595.75" class="ax"/>
<text transform="translate(98.51 2618.05) scale(1.0050 1)" font-size="66.5" class="r">10</text>
<line x1="181.60" y1="2570.46" x2="191.90" y2="2570.46" class="ax"/>
<line x1="181.60" y1="2545.18" x2="191.90" y2="2545.18" class="ax"/>
<line x1="181.60" y1="2519.89" x2="191.90" y2="2519.89" class="ax"/>
<line x1="174.40" y1="2494.60" x2="192.90" y2="2494.60" class="ax"/>
<text transform="translate(99.66 2516.90) scale(1.0050 1)" font-size="66.5" class="r">12</text>
<line x1="181.60" y1="2469.31" x2="191.90" y2="2469.31" class="ax"/>
<line x1="181.60" y1="2444.03" x2="191.90" y2="2444.03" class="ax"/>
<line x1="181.60" y1="2418.74" x2="191.90" y2="2418.74" class="ax"/>
<line x1="174.40" y1="2393.45" x2="192.90" y2="2393.45" class="ax"/>
<text transform="translate(97.01 2415.75) scale(1.0050 1)" font-size="66.5" class="r">14</text>
<line x1="181.60" y1="2368.16" x2="191.90" y2="2368.16" class="ax"/>
<line x1="181.60" y1="2342.88" x2="191.90" y2="2342.88" class="ax"/>
<line x1="181.60" y1="2317.59" x2="191.90" y2="2317.59" class="ax"/>
<line x1="174.40" y1="2292.30" x2="192.90" y2="2292.30" class="ax"/>
<text transform="translate(97.96 2314.60) scale(1.0050 1)" font-size="66.5" class="r">16</text>
<line x1="192.70" y1="3105.40" x2="2370.02" y2="3105.40" class="ax"/>
<line x1="193.70" y1="3105.40" x2="193.70" y2="3122.90" class="ax"/>
<line x1="349.08" y1="3105.40" x2="349.08" y2="3122.90" class="ax"/>
<text transform="translate(330.48 3176.50) scale(1.0050 1)" font-size="66.5" class="r">3</text>
<line x1="504.46" y1="3105.40" x2="504.46" y2="3122.90" class="ax"/>
<text transform="translate(486.02 3176.50) scale(1.0050 1)" font-size="66.5" class="r">4</text>
<line x1="659.84" y1="3105.40" x2="659.84" y2="3122.90" class="ax"/>
<text transform="translate(640.90 3176.50) scale(1.0050 1)" font-size="66.5" class="r">5</text>
<line x1="815.22" y1="3105.40" x2="815.22" y2="3122.90" class="ax"/>
<text transform="translate(796.47 3176.50) scale(1.0050 1)" font-size="66.5" class="r">6</text>
<line x1="970.60" y1="3105.40" x2="970.60" y2="3122.90" class="ax"/>
<text transform="translate(951.05 3176.50) scale(1.0050 1)" font-size="66.5" class="r">7</text>
<line x1="1125.98" y1="3105.40" x2="1125.98" y2="3122.90" class="ax"/>
<text transform="translate(1107.67 3176.50) scale(1.0050 1)" font-size="66.5" class="r">8</text>
<line x1="1281.36" y1="3105.40" x2="1281.36" y2="3122.90" class="ax"/>
<text transform="translate(1263.35 3176.50) scale(1.0050 1)" font-size="66.5" class="r">9</text>
<line x1="1436.74" y1="3105.40" x2="1436.74" y2="3122.90" class="ax"/>
<text transform="translate(1400.06 3176.50) scale(1.0050 1)" font-size="66.5" class="r">10</text>
<line x1="1592.12" y1="3105.40" x2="1592.12" y2="3122.90" class="ax"/>
<text transform="translate(1556.17 3176.50) scale(1.0050 1)" font-size="66.5" class="r">11</text>
<line x1="1747.50" y1="3105.40" x2="1747.50" y2="3122.90" class="ax"/>
<text transform="translate(1711.39 3176.50) scale(1.0050 1)" font-size="66.5" class="r">12</text>
<line x1="1902.88" y1="3105.40" x2="1902.88" y2="3122.90" class="ax"/>
<text transform="translate(1866.23 3176.50) scale(1.0050 1)" font-size="66.5" class="r">13</text>
<line x1="2058.26" y1="3105.40" x2="2058.26" y2="3122.90" class="ax"/>
<text transform="translate(1937.36 3176.50) scale(0.9840 1)" font-size="64.5" class="r">Ribavirin</text>
<line x1="2213.64" y1="3105.40" x2="2213.64" y2="3122.90" class="ax"/>
<line x1="2369.02" y1="3105.40" x2="2369.02" y2="3122.90" class="ax"/>
<text transform="translate(1129.04 3236.70) scale(0.9710 1)" font-size="65" class="b">Compound</text>
<text transform="translate(2324.70 2242.30) scale(0.9949 1)" font-size="68" class="b">C</text>
<g transform="translate(79.60,2720.70) rotate(-90)">
<text transform="translate(-3.12 0.00) scale(0.9457 1)" font-size="68" class="b">SI</text>
</g>
<rect x="211.50" y="2307.60" width="523.60" height="170.4" rx="1.5" class="lg"/>
<rect x="229.40" y="2346.10" width="36.8" height="18.8" rx="1.8" fill="#ff0000"/>
<rect x="229.70" y="2346.40" width="36.2" height="18.2" rx="1.5" class="bd"/>
<rect x="229.70" y="2346.40" width="36.2" height="18.2" rx="1.5" class="bd2"/>
<rect x="229.40" y="2422.00" width="36.8" height="19.200000000000003" rx="1.8" fill="#00ff00"/>
<rect x="229.70" y="2422.30" width="36.2" height="18.6" rx="1.5" class="bd"/>
<rect x="229.70" y="2422.30" width="36.2" height="18.6" rx="1.5" class="bd2"/>
<text transform="translate(285.26 2377.10) scale(0.9597 1)" font-size="66.5" class="r">HSV-1<tspan class="sl">/</tspan>L2(TK+)</text>
<text transform="translate(285.30 2450.90) scale(0.9406 1)" font-size="66.5" class="r">HSV-1<tspan class="sl">/</tspan>L2<tspan class="sl">/</tspan>R</text>
<text transform="translate(611.52 2426.50) scale(0.9747 1)" font-size="40" class="r">ACV</text>
</g>
</svg>
</body>
</html>
